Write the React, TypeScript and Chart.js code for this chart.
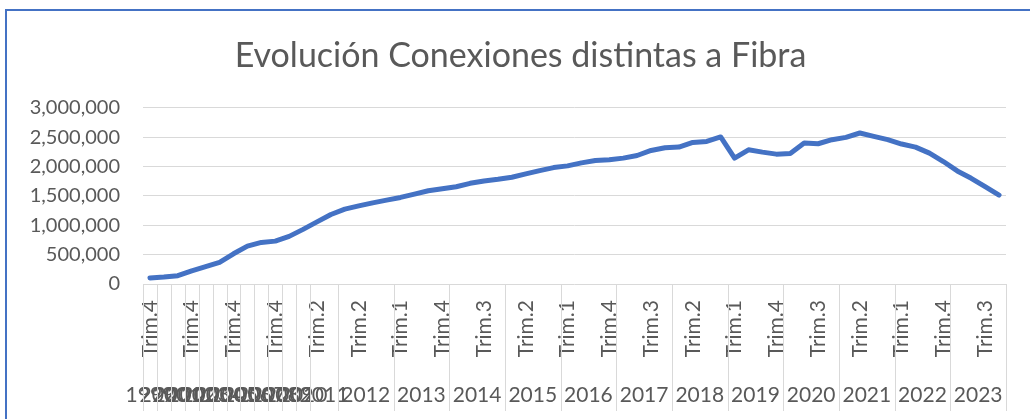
import React, { useEffect, useRef } from 'react';
import { Chart, registerables } from 'chart.js';

Chart.register(...registerables);

// ---- Data ----
const chartTitle = 'Evolución Conexiones distintas a Fibra';
const annualYears = ['1999', '2000', '2001', '2002', '2003', '2004', '2005', '2006', '2007', '2008', '2009', '2010'];
const annualQuarter = 'Trim.4';
const year2011 = '2011';
const quarters2011 = ['Trim.2', 'Trim.4'];
const quarterlyYears = ['2012', '2013', '2014', '2015', '2016', '2017', '2018', '2019', '2020', '2021', '2022', '2023'];
const quarterNames = ['Trim.1', 'Trim.2', 'Trim.3', 'Trim.4'];

const connections = [
  103000, 118000, 142000, 225000, 297000, 370000, 514000, 645000, 708000, 730000, 811000, 930000,
  1057000, 1183000,
  1274000, 1330000, 1382000, 1428000,
  1474000, 1531000, 1588000, 1622000,
  1656000, 1714000, 1754000, 1782000,
  1817000, 1874000, 1931000, 1982000,
  2011000, 2062000, 2102000, 2114000,
  2143000, 2188000, 2274000, 2320000,
  2331000, 2411000, 2428000, 2503000,
  2143000, 2285000, 2245000, 2211000,
  2222000, 2400000, 2388000, 2457000,
  2497000, 2571000, 2514000, 2457000,
  2383000, 2331000, 2228000, 2085000,
  1925000, 1800000, 1656000, 1514000,
];

const yMin = 0;
const yMax = 3000000;
const yStep = 500000;
const quarterLabelEvery = 3;

// ---- Derived category table ----
const pointYears: string[] = [];
const pointQuarters: string[] = [];
annualYears.forEach((y) => { pointYears.push(y); pointQuarters.push(annualQuarter); });
quarters2011.forEach((q) => { pointYears.push(year2011); pointQuarters.push(q); });
quarterlyYears.forEach((y) => quarterNames.forEach((q) => { pointYears.push(y); pointQuarters.push(q); }));

type Group = { year: string; start: number; count: number };
const groups: Group[] = [];
pointYears.forEach((y, i) => {
  const g = groups[groups.length - 1];
  if (g && g.year === y) g.count++;
  else groups.push({ year: y, start: i, count: 1 });
});
const groupCenter = (g: Group) => g.start + (g.count - 1) / 2;
const N = pointYears.length;

const TEXT = '#595959';
const GRID = '#D9D9D9';
const FONT = 'Lato';

const separatorPlugin = {
  id: 'yearSeparators',
  afterDraw(chart: any) {
    const x = chart.scales.x;
    const x2 = chart.scales.x2;
    if (!x || !x2) return;
    const half = (x.getPixelForValue(1) - x.getPixelForValue(0)) / 2;
    const bounds: number[] = groups.map((g) => g.start);
    bounds.push(N);
    const ctx = chart.ctx;
    ctx.save();
    ctx.strokeStyle = GRID;
    ctx.lineWidth = 1;
    const top = chart.chartArea.bottom;
    const bottom = x2.bottom - 8;
    bounds.forEach((b) => {
      const px = Math.round(x.getPixelForValue(b) - half) + 0.5;
      ctx.beginPath();
      ctx.moveTo(px, top);
      ctx.lineTo(px, bottom);
      ctx.stroke();
    });
    ctx.restore();
  },
};

const noEdgePadding = (s: any) => {
  s.paddingLeft = 0;
  s.paddingRight = 0;
};

export default function App() {
  const canvasRef = useRef<HTMLCanvasElement | null>(null);

  useEffect(() => {
    const canvas = canvasRef.current;
    if (!canvas) return;
    const chart = new Chart(canvas, {
      type: 'line',
      data: {
        labels: pointQuarters,
        datasets: [
          {
            label: chartTitle,
            data: connections,
            borderColor: '#4472C4',
            backgroundColor: '#4472C4',
            borderWidth: 5,
            borderCapStyle: 'round',
            borderJoinStyle: 'round',
            pointRadius: 0,
            pointHoverRadius: 0,
            tension: 0,
            fill: false,
          },
        ],
      },
      options: {
        responsive: false,
        animation: false,
        devicePixelRatio: 1,
        layout: { padding: { top: 36, left: 11, right: 0, bottom: 0 } },
        plugins: {
          legend: { display: false },
          tooltip: { enabled: false },
          title: {
            display: true,
            text: chartTitle,
            color: TEXT,
            font: { family: FONT, size: 34, weight: 'normal', lineHeight: 1.2 },
            padding: { top: 0, bottom: 31 },
          },
        },
        scales: {
          y: {
            min: yMin,
            max: yMax,
            ticks: {
              stepSize: yStep,
              color: TEXT,
              padding: 23,
              font: { family: FONT, size: 20 },
              callback: (v: any) => Number(v).toLocaleString('en-US'),
            },
            grid: { color: GRID, lineWidth: 1, drawTicks: false },
            border: { display: false },
            afterFit: (s: any) => { s.width = 132; },
          },
          yRight: {
            type: 'linear',
            position: 'right',
            display: true,
            grid: { display: false, drawTicks: false },
            border: { display: false },
            ticks: { display: false },
            afterFit: (s: any) => { s.width = 24; },
          },
          x: {
            type: 'category',
            offset: true,
            weight: 0,
            grid: { display: false, drawTicks: false, offset: true },
            border: { display: false },
            ticks: {
              autoSkip: false,
              minRotation: 90,
              maxRotation: 90,
              padding: 16,
              color: TEXT,
              font: { family: FONT, size: 21 },
              callback: function (this: any, val: any, idx: number) {
                return idx % quarterLabelEvery === 0 ? pointQuarters[idx] : '';
              },
            },
            afterFit: (s: any) => { s.height = 80; noEdgePadding(s); },
          },
          x2: {
            type: 'linear',
            position: 'bottom',
            weight: 1,
            min: -0.5,
            max: N - 0.5,
            offset: false,
            grid: { display: false, drawTicks: false },
            border: { display: false },
            afterBuildTicks: (s: any) => {
              s.ticks = groups.map((g) => ({ value: groupCenter(g) }));
            },
            ticks: {
              autoSkip: false,
              minRotation: 0,
              maxRotation: 0,
              padding: 19,
              color: TEXT,
              font: { family: FONT, size: 21 },
              callback: (v: any) => {
                const g = groups.find((gg) => Math.abs(groupCenter(gg) - Number(v)) < 1e-6);
                return g ? g.year : '';
              },
            },
            afterFit: (s: any) => { s.height = 55; noEdgePadding(s); },
          },
        },
      } as any,
      plugins: [separatorPlugin],
    });
    return () => chart.destroy();
  }, []);

  return (
    <div style={{ position: 'fixed', left: 0, top: 0, width: 1030, height: 419, background: '#fff' }}>
      <div
        style={{
          position: 'absolute',
          left: 5,
          top: 9,
          width: 1025,
          height: 410,
          borderLeft: '2px solid #4472C4',
          borderTop: '2px solid #4472C4',
          boxSizing: 'border-box',
        }}
      />
      <canvas
        ref={canvasRef}
        width={1030}
        height={419}
        style={{ position: 'absolute', left: 0, top: 0, width: 1030, height: 419 }}
      />
    </div>
  );
}
